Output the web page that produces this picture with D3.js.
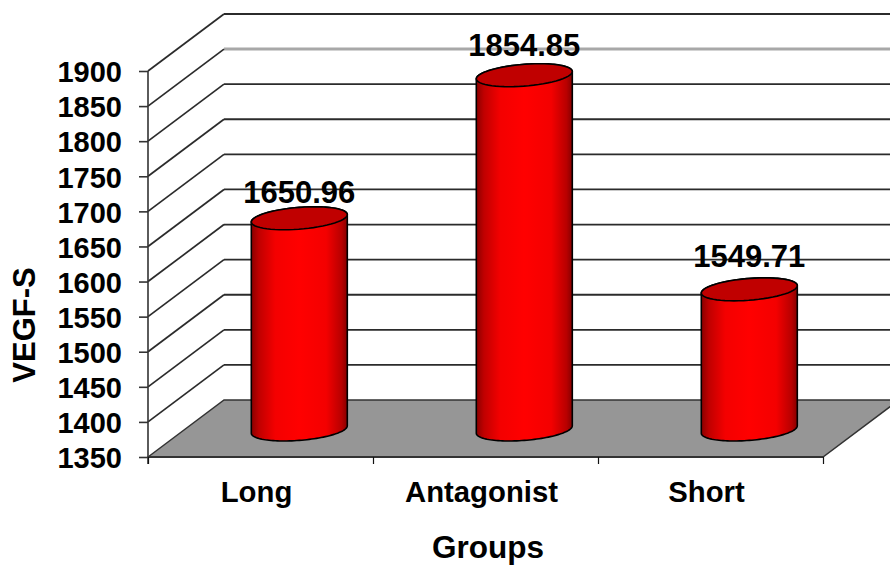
<!DOCTYPE html>
<html>
<head>
<meta charset="utf-8">
<script src="https://cdn.jsdelivr.net/npm/d3@7"></script>
<style>
html,body{margin:0;padding:0;background:#fff}
svg{display:block}
text{font-family:"Liberation Sans",Arial,sans-serif;font-weight:bold;fill:#000}
</style>
</head>
<body>
<svg id="chart" width="890" height="565"></svg>
<script>
const categories = ["Long", "Antagonist", "Short"];
const values = [1650.96, 1854.85, 1549.71];
const valueTicks = [1350,1400,1450,1500,1550,1600,1650,1700,1750,1800,1850,1900];
const valueTitle = "VEGF-S";
const categoryTitle = "Groups";

const svg = d3.select("#chart");
const defs = svg.append("defs");

// Front plane of the box and the depth vector that carries it to the back wall
const yScale = d3.scaleLinear().domain([1350, 1900]).range([457, 71]);
const xScale = d3.scaleBand().domain(categories).range([148, 823]);
const depth = {dx: 76, dy: -57};
const lineColor = "#2b2b2b";

// Side of the cylinder shades from dark edges to a bright centre
const grad = defs.append("linearGradient").attr("id", "cyl")
  .attr("x1", 0).attr("x2", 1).attr("y1", 0).attr("y2", 0);
[[0,"#8a0000"],[0.08,"#c00000"],[0.25,"#f40000"],[0.5,"#ff0000"],[0.78,"#f40000"],[0.94,"#b80000"],[1,"#860000"]]
  .forEach(([o,c]) => grad.append("stop").attr("offset", o).attr("stop-color", c));

// Walls: each tick runs up the side wall, then along the back wall
const [x0, x1] = xScale.range();
const wall = svg.append("g").attr("fill", "none");
wall.selectAll("path.back").data(valueTicks.slice(1)).join("path").attr("class", "back")
  .attr("d", d => d3.line()([[x0 + depth.dx, yScale(d) + depth.dy], [890, yScale(d) + depth.dy]]))
  .attr("stroke", d => d === 1850 ? "#a8a8a8" : lineColor)
  .attr("stroke-width", d => d === 1850 ? 3 : 1.8);
wall.selectAll("path.side").data(valueTicks.slice(1)).join("path").attr("class", "side")
  .attr("d", d => d3.line()([[x0, yScale(d)], [x0 + depth.dx, yScale(d) + depth.dy]]))
  .attr("stroke", lineColor).attr("stroke-width", 1.7);

// Floor
svg.append("path")
  .attr("d", d3.line()([[x0, yScale(1350)], [x0 + depth.dx, yScale(1350) + depth.dy], [x1 + depth.dx, yScale(1350) + depth.dy], [x1, yScale(1350)]]) + "Z")
  .attr("fill", "#969696").attr("stroke", "#333").attr("stroke-width", 1.5);

// Axes
const yAxis = d3.axisLeft(yScale).tickValues(valueTicks).tickSize(9).tickPadding(17).tickFormat(d3.format("d"));
const gy = svg.append("g").attr("transform", `translate(${x0},0)`).call(yAxis);
gy.selectAll("line,path").attr("stroke", "#333").attr("stroke-width", 1.6);
gy.selectAll("text").attr("font-size", 29).attr("dy", "0.37em");
gy.select(".domain").attr("d", `M0,${yScale(1900)}V${yScale(1350) + 7}`);
gy.attr("font-family", null);

const xAxis = d3.axisBottom(d3.scaleLinear().domain([0, 3]).range([x0, x1])).tickValues([0,1,2,3]).tickSize(7).tickFormat("");
const gx = svg.append("g").attr("transform", `translate(0,${yScale(1350)})`).call(xAxis);
gx.selectAll("line").attr("stroke", "#111").attr("stroke-width", 1.2);
gx.select(".domain").attr("stroke", "#333").attr("stroke-width", 1.8).attr("d", `M${x0},0H${x1}`);

// Category labels and titles
svg.append("g").selectAll("text").data(categories).join("text")
  .attr("x", d => xScale(d) + xScale.bandwidth() / 2 - 4).attr("y", 502)
  .attr("text-anchor", "middle").attr("font-size", 29.3).text(d => d);
svg.append("text").attr("x", 488).attr("y", 558).attr("text-anchor", "middle")
  .attr("font-size", 31.5).text(categoryTitle);
svg.append("text").attr("transform", "translate(35,325) rotate(-90)").attr("text-anchor", "middle")
  .attr("font-size", 31).text(valueTitle);

// Cylinders stand at mid-depth; the base is a circle foreshortened along the depth vector
const radius = 48;
const ry = 11.5;
const skew = ry * depth.dx / -depth.dy;
const ax = Math.sqrt(radius * radius - skew * skew);
const tLeft = Math.atan2(-skew, -ax);
const tRight = tLeft + Math.PI;
const ellipse = (cx, cy, from, to, n = 60) =>
  d3.range(n + 1).map(i => {
    const t = from + (to - from) * i / n;
    return [cx + ax * Math.cos(t) + skew * Math.sin(t), cy - ry * Math.sin(t)];
  });
const line = d3.line();

const bars = svg.append("g").selectAll("g").data(categories.map((c, i) => ({c, v: values[i]}))).join("g");
const centerX = d => xScale(d.c) + xScale.bandwidth() / 2 + depth.dx / 2 + 0.8;
const baseY = yScale(1350) + depth.dy / 2 + 1;
const topY = d => yScale(d.v) + depth.dy / 2 + 1;

bars.append("path")
  .attr("d", d => {
    const upper = ellipse(centerX(d), topY(d), tRight, tLeft + 2 * Math.PI);
    const lower = ellipse(centerX(d), baseY, tLeft, tRight);
    return line([...upper, ...lower]) + "Z";
  })
  .attr("fill", "url(#cyl)").attr("stroke", "#000").attr("stroke-width", 1.6);

bars.append("path")
  .attr("d", d => line(ellipse(centerX(d), topY(d), 0, 2 * Math.PI)) + "Z")
  .attr("fill", "#c00000").attr("stroke", "#000").attr("stroke-width", 1.6);

// Value labels sit above each cap, lifted a little differently per bar
const labelLift = {Long: 15, Antagonist: 19, Short: 22};
bars.append("text")
  .attr("x", centerX).attr("y", d => topY(d) - labelLift[d.c])
  .attr("text-anchor", "middle").attr("font-size", 31)
  .text(d => d.v.toFixed(2));
</script>
</body>
</html>
